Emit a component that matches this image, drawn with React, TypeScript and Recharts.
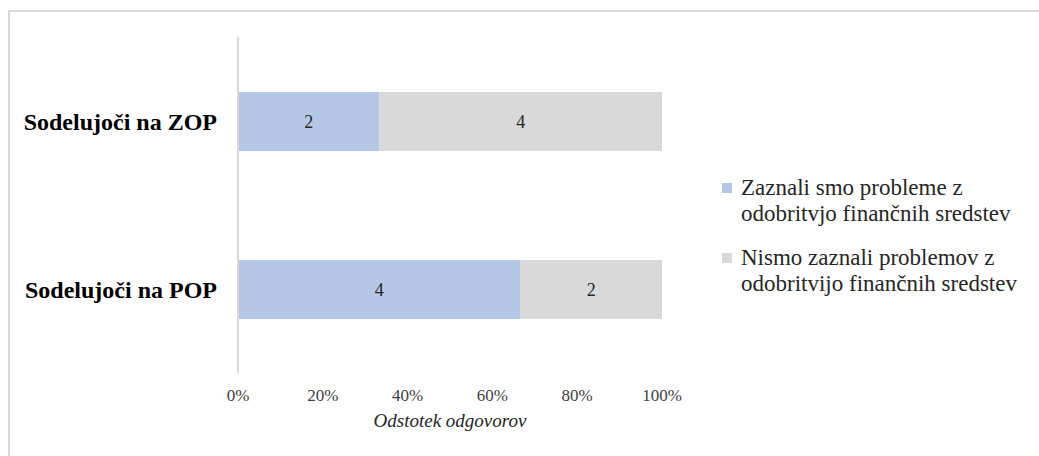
import React from "react";
import { BarChart, Bar, XAxis, YAxis, LabelList } from "recharts";

const categories = ["Sodelujoči na ZOP", "Sodelujoči na POP"];
const hadProblems = [2, 4];
const noProblems = [4, 2];
const seriesNames = [
  "Zaznali smo probleme z odobritvjo finančnih sredstev",
  "Nismo zaznali problemov z odobritvijo finančnih sredstev",
];
const legendLines = [
  ["Zaznali smo probleme z", "odobritvjo finančnih sredstev"],
  ["Nismo zaznali problemov z", "odobritvijo finančnih sredstev"],
];
const xTicks = [0, 0.2, 0.4, 0.6, 0.8, 1];
const colors = ["#B4C7E7", "#D9D9D9"];

const data = categories.map((name, i) => ({
  name,
  had: hadProblems[i],
  none: noProblems[i],
}));

const FONT = '"Liberation Serif", "Times New Roman", serif';

const LegendBox = () => (
  <div
    style={{
      position: "absolute",
      left: 712,
      top: 163,
      width: 330,
      fontFamily: FONT,
      fontSize: 23,
      color: "#262626",
      lineHeight: "26px",
      whiteSpace: "nowrap",
    }}
  >
    {legendLines.map((lines, i) => (
      <div key={i} style={{ position: "relative", paddingLeft: 19, marginBottom: i === 0 ? 18 : 0 }}>
        <span
          style={{
            position: "absolute",
            left: 0,
            top: 8,
            width: 10,
            height: 10,
            background: colors[i],
          }}
        />
        {lines.map((l) => (
          <div key={l}>{l}</div>
        ))}
      </div>
    ))}
  </div>
);

export default function App() {
  return (
    <div
      style={{
        position: "absolute",
        left: 8,
        top: 10,
        width: 1029,
        height: 444,
        borderTop: "2px solid #D9D9D9",
        borderLeft: "2px solid #D9D9D9",
      }}
    >
      <BarChart
        width={1029}
        height={444}
        data={data}
        layout="vertical"
        stackOffset="expand"
        margin={{ top: 25, left: 0, right: 377, bottom: 13 }}
        barCategoryGap={0}
      >
        <XAxis
          type="number"
          domain={[0, 1]}
          ticks={xTicks}
          tickFormatter={(v: number) => `${Math.round(v * 100)}%`}
          axisLine={false}
          tickLine={false}
          height={70}
          tickMargin={10}
          tick={{ fontFamily: FONT, fontSize: 17, fill: "#404040" }}
          label={{
            value: "Odstotek odgovorov",
            position: "insideBottom",
            offset: 16,
            style: { fontFamily: FONT, fontSize: 19, fontStyle: "italic", fill: "#262626" },
          }}
        />
        <YAxis
          type="category"
          dataKey="name"
          width={228}
          axisLine={{ stroke: "#D9D9D9", strokeWidth: 2 }}
          tickLine={false}
          tickMargin={15}
          tick={{ fontFamily: FONT, fontSize: 24, fontWeight: "bold", fill: "#000" }}
        />
        <Bar dataKey="had" name={seriesNames[0]} stackId="s" fill={colors[0]} barSize={59} isAnimationActive={false}>
          <LabelList dataKey="had" position="center" style={{ fontFamily: FONT, fontSize: 18, fill: "#262626" }} />
        </Bar>
        <Bar dataKey="none" name={seriesNames[1]} stackId="s" fill={colors[1]} barSize={59} isAnimationActive={false}>
          <LabelList dataKey="none" position="center" style={{ fontFamily: FONT, fontSize: 18, fill: "#262626" }} />
        </Bar>
      </BarChart>
      <LegendBox />
    </div>
  );
}
